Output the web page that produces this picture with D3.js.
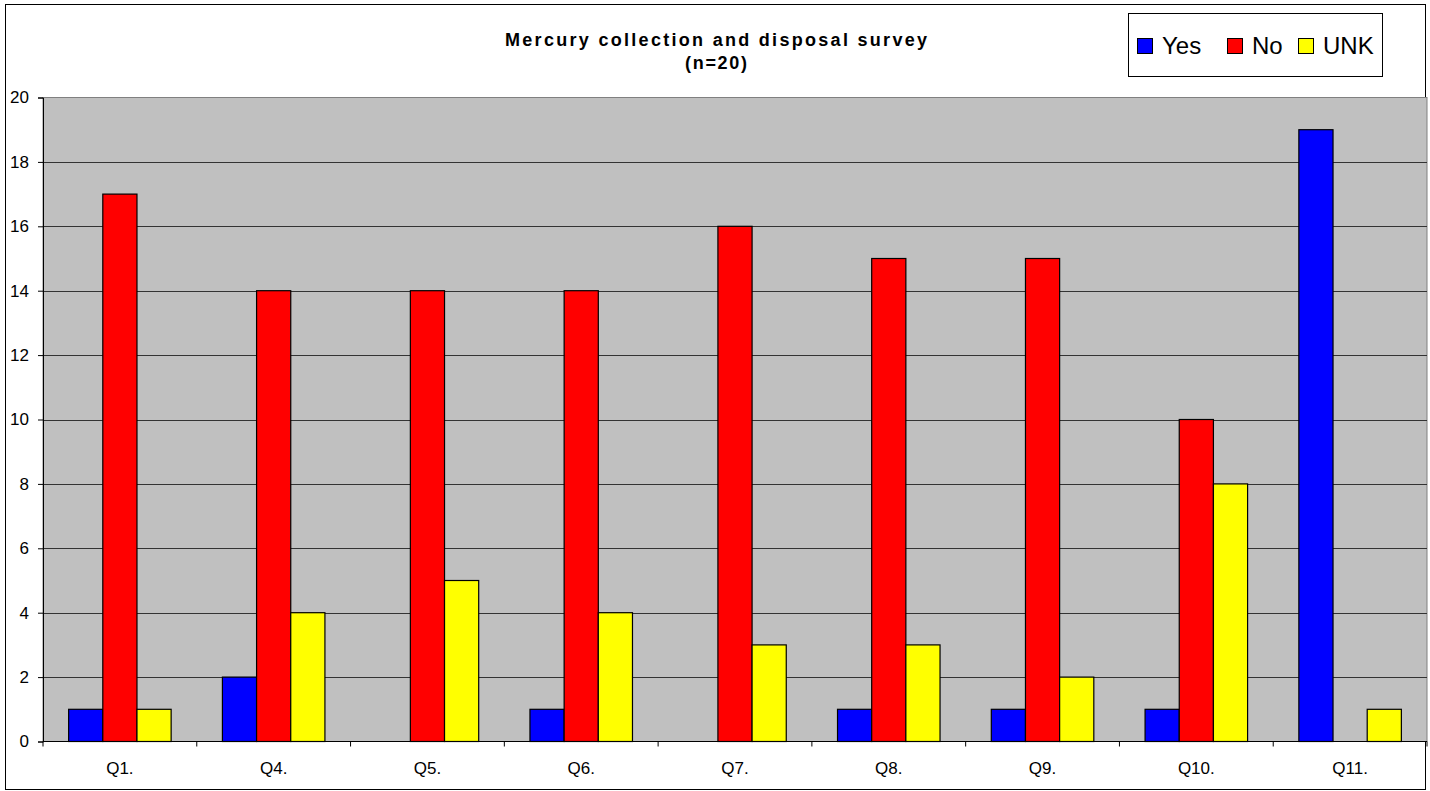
<!DOCTYPE html>
<html>
<head>
<meta charset="utf-8">
<script src="https://cdn.jsdelivr.net/npm/d3@7"></script>
<style>
  html, body { margin: 0; padding: 0; background: #fff; }
  svg { display: block; font-family: Arial, "Liberation Sans", sans-serif; }
</style>
</head>
<body>
<svg id="chart" width="1430" height="791"></svg>
<script>
// Survey answers per question
const questions = ["Q1.", "Q4.", "Q5.", "Q6.", "Q7.", "Q8.", "Q9.", "Q10.", "Q11."];
const seriesNames = ["Yes", "No", "UNK"];
const yesValues = [1, 2, 0, 1, 0, 1, 1, 1, 19];
const noValues = [17, 14, 14, 14, 16, 15, 15, 10, 0];
const unkValues = [1, 4, 5, 4, 3, 3, 2, 8, 1];
const seriesColors = ["#0000ff", "#ff0000", "#ffff00"];
const yTicks = [0, 2, 4, 6, 8, 10, 12, 14, 16, 18, 20];

const seriesValues = [yesValues, noValues, unkValues];
const svg = d3.select("#chart");
const FONT = "Arial, 'Liberation Sans', sans-serif";

// outer chart frame
svg.append("rect")
  .attr("x", 5.5).attr("y", 4.5)
  .attr("width", 1420).attr("height", 785)
  .attr("fill", "#fff").attr("stroke", "#000").attr("stroke-width", 1);

const plot = { left: 43, right: 1427, top: 97.5, bottom: 741.5 };

const x0 = d3.scaleBand().domain(questions).range([plot.left, plot.right]).paddingInner(0).paddingOuter(0);
const step = x0.bandwidth();
const barW = step / 4.5; // gap equals 1.5 bar widths
const x1 = d3.scaleBand().domain(seriesNames).range([0, barW * 3]);
const y = d3.scaleLinear().domain([0, 20]).range([plot.bottom, plot.top]);

// plot background
svg.append("rect")
  .attr("x", plot.left).attr("y", plot.top)
  .attr("width", plot.right - plot.left).attr("height", plot.bottom - plot.top)
  .attr("fill", "#c0c0c0").attr("stroke", "#808080").attr("stroke-width", 1);

// horizontal gridlines
svg.append("g")
  .selectAll("line")
  .data(yTicks.filter(t => t > 0 && t < 20))
  .join("line")
  .attr("x1", plot.left).attr("x2", plot.right)
  .attr("y1", d => Math.round(y(d)) + 0.5).attr("y2", d => Math.round(y(d)) + 0.5)
  .attr("stroke", "#333").attr("stroke-width", 1);

// bars
const groups = svg.append("g")
  .selectAll("g")
  .data(questions)
  .join("g")
  .attr("transform", d => `translate(${x0(d) + (step - barW * 3) / 2},0)`);

groups.selectAll("rect")
  .data((q, i) => seriesNames.map((s, k) => ({ s, v: seriesValues[k][i], c: seriesColors[k] })).filter(d => d.v > 0))
  .join("rect")
  .attr("x", d => x1(d.s))
  .attr("y", d => y(d.v))
  .attr("width", x1.bandwidth())
  .attr("height", d => y(0) - y(d.v))
  .attr("fill", d => d.c)
  .attr("stroke", "#000").attr("stroke-width", 1.2);

// y axis
const yAxis = d3.axisLeft(y).tickValues(yTicks).tickSize(5).tickPadding(9).tickFormat(d3.format("d"));
const yg = svg.append("g").attr("transform", `translate(${plot.left},0)`).call(yAxis);
yg.select(".domain").attr("stroke", "#000");
yg.selectAll(".tick line").attr("stroke", "#000");
yg.selectAll(".tick text").attr("font-size", 17).attr("fill", "#000").attr("font-family", FONT);

// x axis with ticks between categories
const xg = svg.append("g").attr("transform", `translate(0,${plot.bottom})`);
xg.append("line").attr("x1", plot.left).attr("x2", plot.right).attr("y1", 0).attr("y2", 0).attr("stroke", "#000");
xg.selectAll("line.tk")
  .data(questions.map(q => x0(q)).concat([plot.right]))
  .join("line").attr("class", "tk")
  .attr("x1", d => d).attr("x2", d => d).attr("y1", 0).attr("y2", 5)
  .attr("stroke", "#000");
xg.selectAll("text")
  .data(questions)
  .join("text")
  .attr("x", d => x0(d) + step / 2)
  .attr("y", 32.5)
  .attr("text-anchor", "middle")
  .attr("font-size", 17)
  .attr("fill", "#000")
  .text(d => d);

// title
svg.append("text").attr("x", 716).attr("y", 46).attr("text-anchor", "middle")
  .attr("font-size", 18).attr("font-weight", "bold")
  .attr("textLength", 422).attr("lengthAdjust", "spacing")
  .text("Mercury collection and disposal survey");
svg.append("text").attr("x", 716).attr("y", 69).attr("text-anchor", "middle")
  .attr("font-size", 18).attr("font-weight", "bold")
  .attr("textLength", 62).attr("lengthAdjust", "spacing")
  .text("(n=20)");

// legend
const lg = svg.append("g");
lg.append("rect").attr("x", 1128.5).attr("y", 13.5).attr("width", 254).attr("height", 63)
  .attr("fill", "#fff").attr("stroke", "#000").attr("stroke-width", 1);
const legendX = [1137, 1227, 1298];
const items = lg.selectAll("g.item").data(seriesNames).join("g").attr("class", "item");
items.append("rect")
  .attr("x", (d, i) => legendX[i] + 0.5).attr("y", 38.5)
  .attr("width", 15).attr("height", 15)
  .attr("fill", (d, i) => seriesColors[i]).attr("stroke", "#000").attr("stroke-width", 1);
items.append("text")
  .attr("x", (d, i) => legendX[i] + 25).attr("y", 53.5)
  .attr("font-size", 24).attr("fill", "#000")
  .text(d => d);
</script>
</body>
</html>
